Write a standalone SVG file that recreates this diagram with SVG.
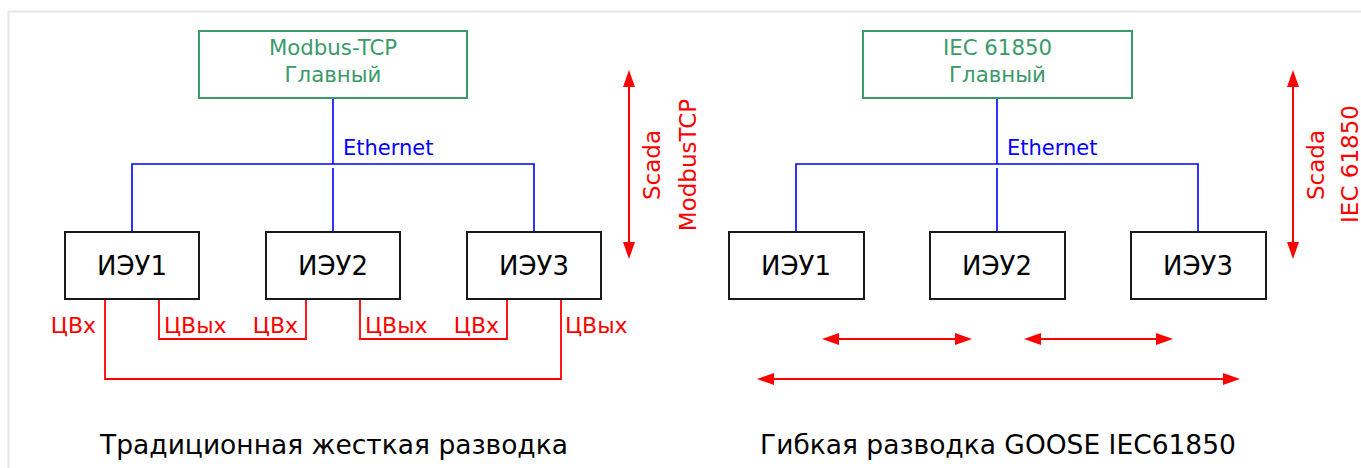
<svg xmlns="http://www.w3.org/2000/svg" width="1361" height="468" viewBox="0 0 1361 468">
<style>
text{font-family:"DejaVu Sans","Liberation Sans",sans-serif}
.master rect{fill:#fff;stroke:#3a9a6a;stroke-width:2}
.master text{fill:#3a9a6a;font-size:21.3px;text-anchor:middle}
.ied rect{fill:#fff;stroke:#1a1a1a;stroke-width:2}
.ied text{fill:#000;font-size:26px;text-anchor:middle}
.eth{fill:none;stroke:#0000ff;stroke-width:1.6}
.ethl{fill:#0000ff;font-size:21px}
.wire{fill:none;stroke:#ff0000;stroke-width:1.8}
.wl{fill:#ff0000;font-size:22px}
.arr{fill:none;stroke:#ff0000;stroke-width:2;marker-start:url(#ah);marker-end:url(#ah)}
.vl{fill:#ff0000;font-size:23px;text-anchor:middle}
.title{fill:#000;font-size:26.5px;text-anchor:middle}
</style>
<defs>
<marker id="ah" markerUnits="userSpaceOnUse" markerWidth="17" markerHeight="12" refX="0" refY="6" orient="auto-start-reverse">
<path d="M0,0 L17,6 L0,12 z" fill="#ff0000"/>
</marker>
</defs>
<rect width="1361" height="468" fill="#fff"/>
<path d="M8.5,468 V11.5 H1361" fill="none" stroke="#e6e6e6" stroke-width="2"/>

<g id="connectors">
<path class="eth" d="M333,98 V164 M132,232 V164 H534 V232 M333,168 V232"/>
<path class="eth" d="M997,98 V164 M796,232 V164 H1198 V232 M997,168 V232"/>
<path class="wire" d="M105,299 V379 H561 V299"/>
<path class="wire" d="M159,299 V339 H306 V299"/>
<path class="wire" d="M360,299 V339 H507 V299"/>
<line class="arr" x1="629" y1="87" x2="629" y2="242"/>
<line class="arr" x1="1293" y1="87" x2="1293" y2="242"/>
<line class="arr" x1="839" y1="339" x2="955" y2="339"/>
<line class="arr" x1="1041" y1="339" x2="1156" y2="339"/>
<line class="arr" x1="774" y1="379" x2="1223" y2="379"/>
</g>

<text class="ethl" x="343" y="155">Ethernet</text>
<text class="ethl" x="1007" y="155">Ethernet</text>

<text class="wl" x="96" y="333" text-anchor="end">ЦВх</text>
<text class="wl" x="164" y="333">ЦВых</text>
<text class="wl" x="298" y="333" text-anchor="end">ЦВх</text>
<text class="wl" x="365" y="333">ЦВых</text>
<text class="wl" x="499" y="333" text-anchor="end">ЦВх</text>
<text class="wl" x="565" y="333">ЦВых</text>

<text class="vl" transform="translate(660,165) rotate(-90)">Scada</text>
<text class="vl" transform="translate(696,165) rotate(-90)">ModbusTCP</text>
<text class="vl" transform="translate(1324,165) rotate(-90)">Scada</text>
<text class="vl" transform="translate(1358,164) rotate(-90)">IEC 61850</text>

<g id="master1" class="master">
<rect x="199" y="31" width="268" height="67"/>
<text x="333" y="55">Modbus-TCP</text>
<text x="333" y="82">Главный</text>
</g>
<g id="master2" class="master">
<rect x="863" y="31" width="269" height="67"/>
<text x="997.5" y="55">IEC 61850</text>
<text x="997.5" y="82">Главный</text>
</g>

<g id="ied1a" class="ied"><rect x="65" y="232" width="134" height="67"/><text x="132" y="275">ИЭУ1</text></g>
<g id="ied2a" class="ied"><rect x="266" y="232" width="134" height="67"/><text x="333" y="275">ИЭУ2</text></g>
<g id="ied3a" class="ied"><rect x="467" y="232" width="134" height="67"/><text x="534" y="275">ИЭУ3</text></g>
<g id="ied1b" class="ied"><rect x="729" y="232" width="135" height="67"/><text x="796" y="275">ИЭУ1</text></g>
<g id="ied2b" class="ied"><rect x="930" y="232" width="135" height="67"/><text x="997" y="275">ИЭУ2</text></g>
<g id="ied3b" class="ied"><rect x="1131" y="232" width="135" height="67"/><text x="1198" y="275">ИЭУ3</text></g>

<text class="title" x="334" y="454">Традиционная жесткая разводка</text>
<text class="title" x="998" y="454">Гибкая разводка GOOSE IEC61850</text>
</svg>
